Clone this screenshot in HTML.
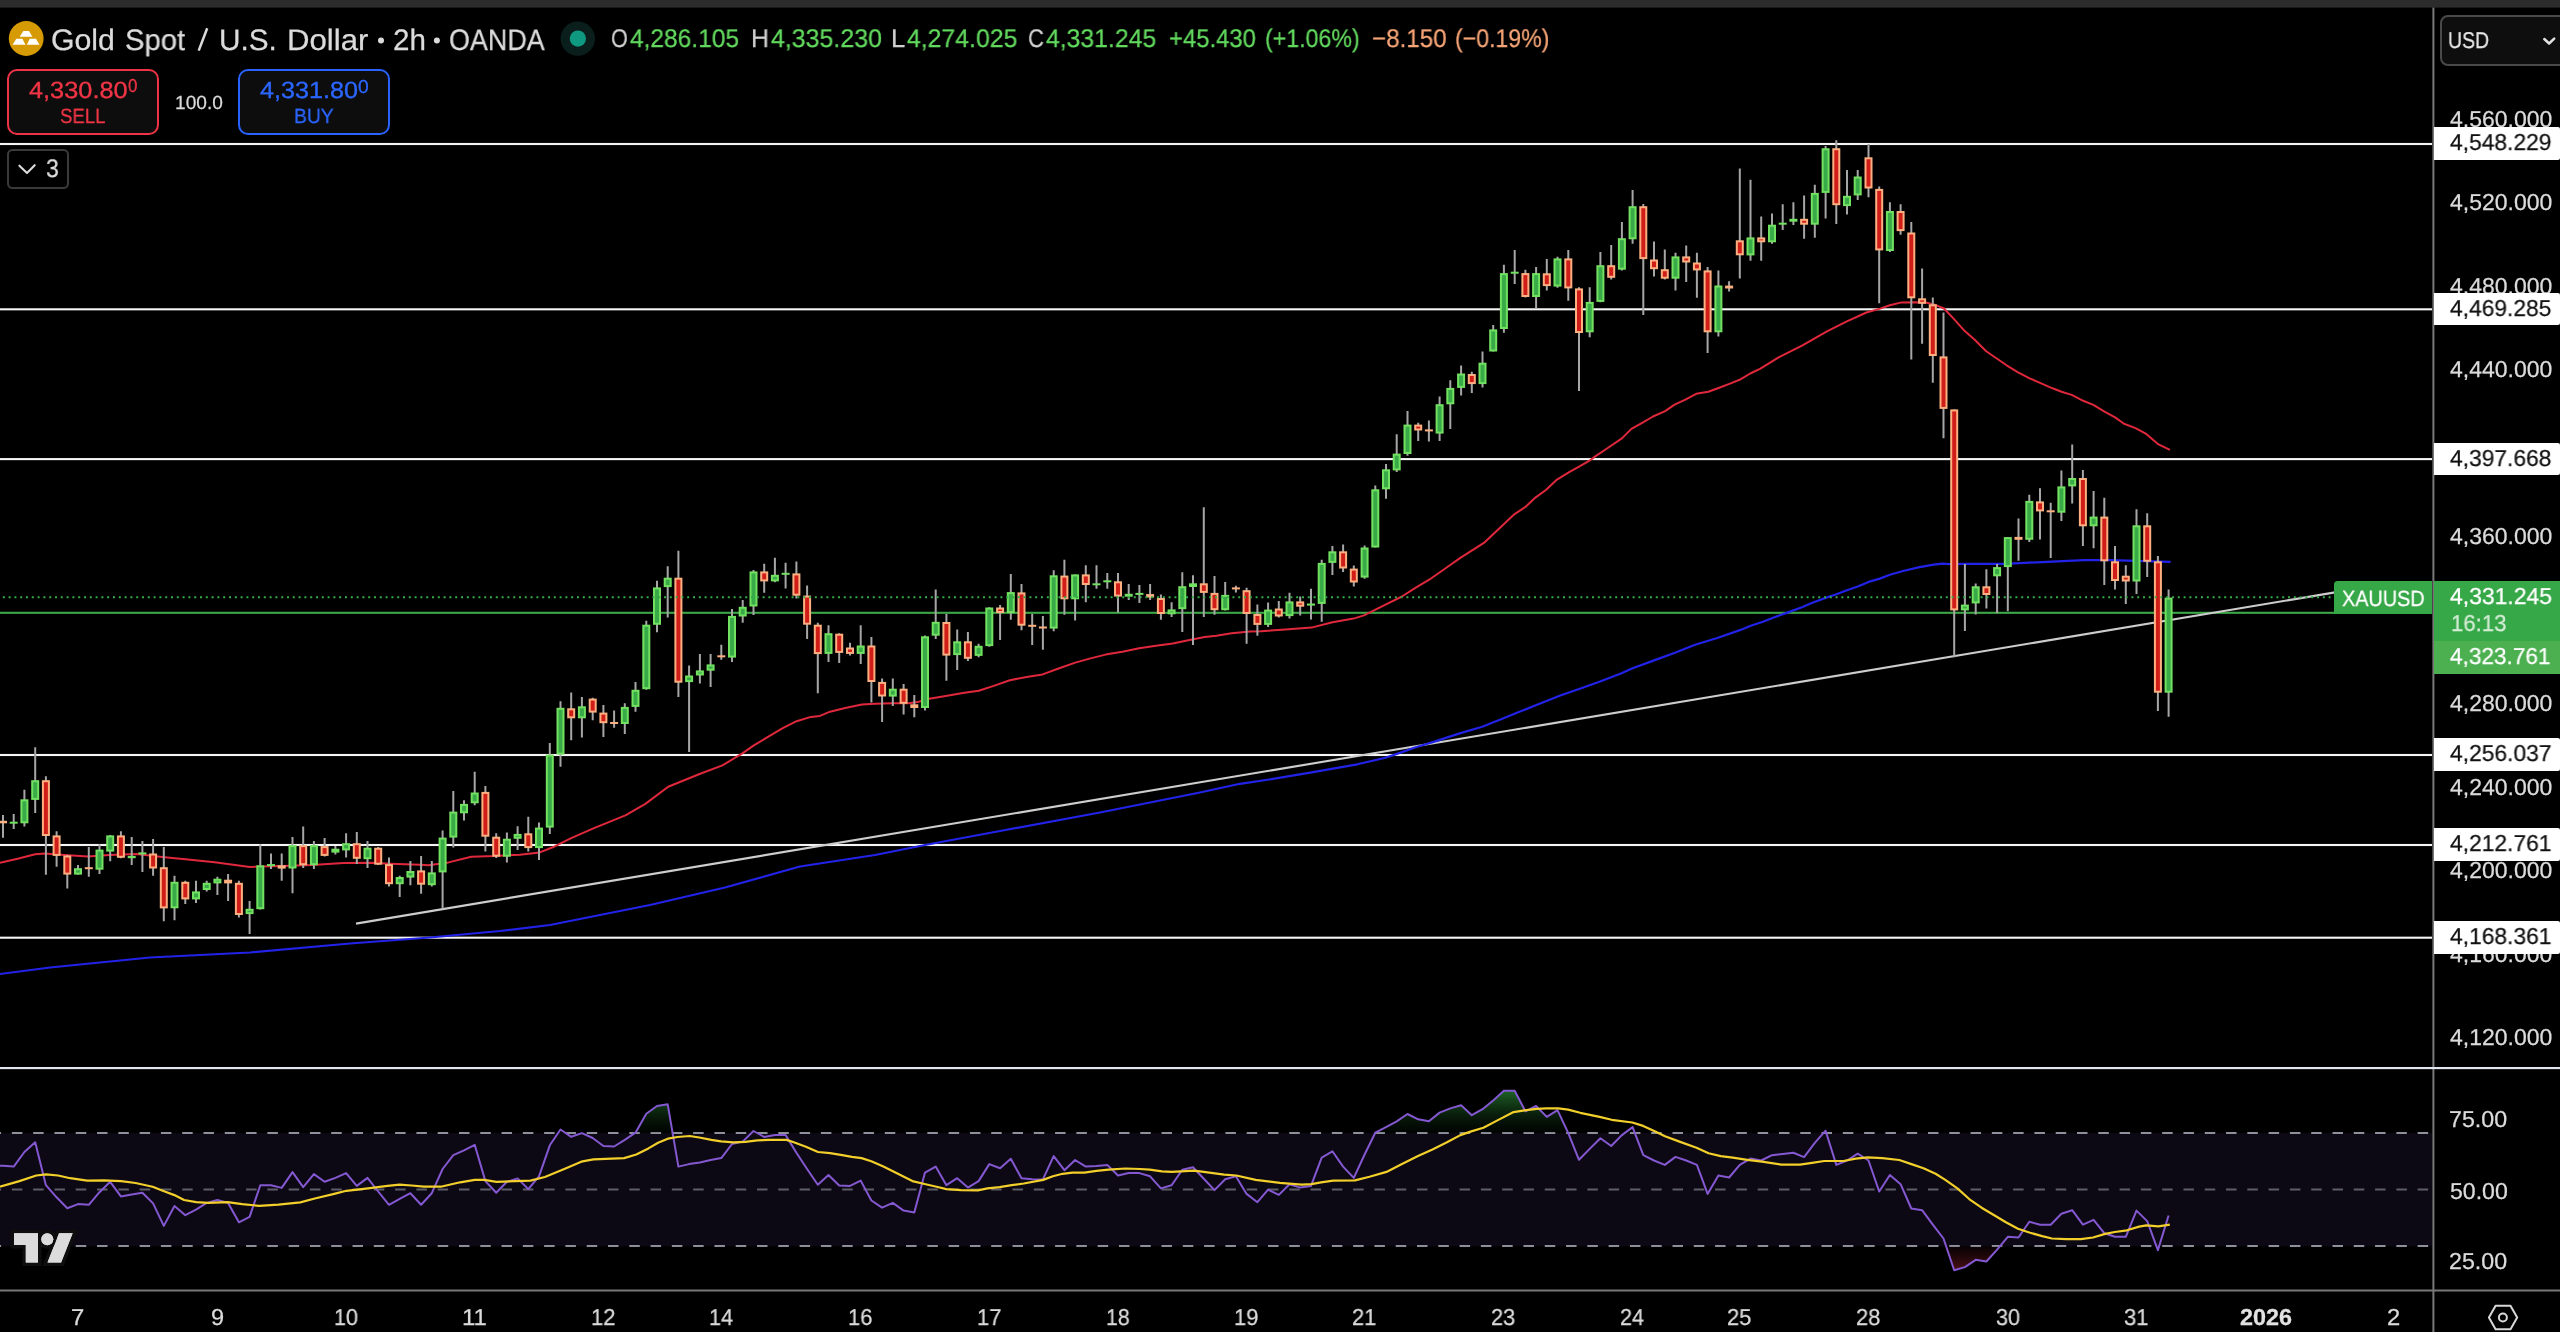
<!DOCTYPE html>
<html><head><meta charset="utf-8"><title>XAUUSD</title>
<style>
html,body{margin:0;padding:0;background:#000;}
body{width:2560px;height:1332px;position:relative;overflow:hidden;font-family:"Liberation Sans",sans-serif;}
.chart{position:absolute;left:0;top:0;}
.lines{position:absolute;left:0;top:0;z-index:1;}
.ov{position:absolute;left:0;top:0;z-index:4;pointer-events:none;}
.t{position:absolute;white-space:pre;line-height:1;transform-origin:0 50%;z-index:2;text-rendering:geometricPrecision;will-change:transform;-webkit-text-stroke:0.25px currentColor;}
.wl{position:absolute;left:2434.3px;width:126px;height:32.8px;background:#fff;border-radius:0 2px 2px 0;z-index:2;}
.box{position:absolute;box-sizing:border-box;}
.sell{left:6.7px;top:69.2px;width:152.7px;height:66.2px;border:2.4px solid #ee3346;border-radius:10px;background:#0d0d0d;}
.buy{left:237.6px;top:69.2px;width:152.8px;height:66.2px;border:2.4px solid #2a62ff;border-radius:10px;background:#0d0d0d;}
.ind{left:6.8px;top:148.8px;width:61.9px;height:40.7px;border:2.2px solid #3a3a3a;border-radius:5.5px;background:#000;}
.usd{left:2440.2px;top:15.4px;width:140px;height:50.5px;border:2.3px solid #4a4a4a;border-radius:8px;background:#0e0e0e;}
.xau{left:2334.1px;top:581.1px;width:98.4px;height:32.8px;background:#37a848;border-radius:3.5px 0 0 0;z-index:2;}
.cur{left:2434.3px;top:581.1px;width:126px;height:59.7px;background:#37a848;z-index:2;}
.cur2{left:2434.3px;top:640.8px;width:126px;height:32.8px;background:#4caf50;z-index:2;}
</style></head><body>
<svg class="chart" width="2432" height="1291" viewBox="0 0 2432 1291">
<defs>
<linearGradient id="gob" x1="0" y1="1087" x2="0" y2="1133" gradientUnits="userSpaceOnUse"><stop offset="0" stop-color="#2c8f38" stop-opacity="0.8"/><stop offset="1" stop-color="#0c2a10" stop-opacity="0.1"/></linearGradient>
<linearGradient id="gos" x1="0" y1="1246" x2="0" y2="1272" gradientUnits="userSpaceOnUse"><stop offset="0" stop-color="#3a0d12" stop-opacity="0.15"/><stop offset="1" stop-color="#64141e" stop-opacity="0.85"/></linearGradient>
<clipPath id="cob"><rect x="0" y="1070" width="2432" height="63.1"/></clipPath>
<clipPath id="cos"><rect x="0" y="1246.2" width="2432" height="44"/></clipPath>
<clipPath id="cmain"><rect x="0" y="7.5" width="2432" height="1059.3"/></clipPath>
</defs>
<g clip-path="url(#cmain)">
<rect x="0" y="142.95" width="2432.4" height="2.1" fill="#f4f4f4"/>
<rect x="0" y="308.25" width="2432.4" height="2.1" fill="#f4f4f4"/>
<rect x="0" y="458.05" width="2432.4" height="2.1" fill="#f4f4f4"/>
<rect x="0" y="753.95" width="2432.4" height="2.1" fill="#f4f4f4"/>
<rect x="0" y="843.95" width="2432.4" height="2.1" fill="#f4f4f4"/>
<rect x="0" y="936.65" width="2432.4" height="2.1" fill="#f4f4f4"/>
<rect x="0" y="611.75" width="2335" height="2.1" fill="#3da747"/>
<path d="M356 923.6 L2335 592.4" stroke="#cdcdcd" stroke-width="2.1" fill="none"/>
<path d="M0 862.7 L17.6 858.8 L35.1 854.3 L44.9 853.5 L64.4 854.9 L87.8 856.5 L109.3 854.9 L136.6 853.9 L162 856.9 L185.4 859.2 L214.7 862.3 L249.8 867 L261.5 866.6 L283 866 L312.3 865.1 L343.5 863.1 L370.8 862.7 L390.3 863.7 L420 864.7 L428.5 865.2 L448.5 862.4 L471.3 856.7 L494.2 856.1 L519.8 854.7 L539.8 852.4 L554.1 846.7 L571.2 838.1 L594 828.2 L625.4 815.3 L645.4 803.9 L668.2 786.8 L699.6 774 L722.4 765.4 L742.4 753.4 L753.8 745.4 L768 736.9 L782.3 728.3 L796.6 721.2 L810.8 716.9 L820 715.9 L830.1 711.7 L845.2 708 L862 704.6 L875.4 703.8 L892.2 703.3 L909 703.3 L917.4 702.1 L929.2 698.7 L944.3 696.2 L962.8 692.9 L978.7 690.7 L993 686.1 L1009.8 680.3 L1026.6 676.9 L1042.6 674.4 L1058.5 668.5 L1075.3 662.6 L1090.5 658.4 L1105.6 654.6 L1122.4 651.7 L1139.2 648.3 L1156 645.8 L1172.8 643.6 L1189.6 639.9 L1204.7 636.9 L1216.4 635.8 L1231.6 633.2 L1250 631.6 L1261 631.2 L1282 629.7 L1311.5 627.6 L1332.5 622.2 L1353.5 618.6 L1364 615.4 L1385 604.9 L1401.9 596.5 L1416.6 587.1 L1429.2 579.7 L1450.2 565 L1460.7 557.6 L1483.9 542.9 L1501.6 526.2 L1513.8 514.7 L1525.9 506.6 L1535.4 497.6 L1546.2 489.7 L1557 479.6 L1569.2 472.2 L1580 466.1 L1589.5 460.7 L1594.9 456.6 L1607 448.5 L1621.9 438.4 L1631.4 428.9 L1642.2 422.8 L1653 416.5 L1665.1 411.1 L1674.6 404.6 L1685.4 399.6 L1696.2 393.8 L1708.4 391.8 L1719.2 387.7 L1730 383.6 L1740.8 379.2 L1750.3 373.5 L1760 368.8 L1778.6 357.4 L1802 345.7 L1827.4 331.1 L1846.9 321.3 L1866.4 312.5 L1880.1 308.6 L1889.8 305.3 L1901.5 302.4 L1915.2 302.2 L1926.9 302.8 L1936.4 305.3 L1944 308.5 L1954.3 319.4 L1964.5 330.8 L1974.7 339.8 L1986.2 351.3 L1996.4 358.3 L2006.6 365.3 L2018.1 372.3 L2029.6 378.3 L2042.3 383.8 L2052.5 388.3 L2061.5 391.8 L2071.7 394.9 L2083.2 400.8 L2093.4 404.9 L2104.9 411.9 L2115.1 417.4 L2124 423.8 L2135.5 428.1 L2145.7 433.6 L2158.5 444.4 L2169.9 449.9" stroke="#e0283c" stroke-width="2" fill="none" stroke-linejoin="round"/>
<path d="M0 974 L50 967.5 L150 957.5 L250 952.5 L350 943.5 L430 937.5 L500 931 L550 925 L600 915 L650 905 L725 887.5 L800 866.5 L875 855 L925 845 L1000 831 L1100 812.5 L1200 792.5 L1240 783.8 L1269.3 779.5 L1310.3 772.7 L1357.2 764.3 L1384.5 758 L1396.3 754.1 L1415.8 747.3 L1435.3 741.4 L1458.8 733.6 L1482.2 726.8 L1501.7 718.9 L1521.3 711.1 L1540.8 703.3 L1560.3 695.5 L1579.8 688.7 L1599.4 681.8 L1620.9 673.4 L1632.6 668.2 L1654.1 660.4 L1675.6 652.5 L1695.1 644.7 L1717.3 638 L1740.6 629.9 L1750.8 625.8 L1763 621.8 L1773.1 617.7 L1787.3 612.6 L1802.6 607 L1811.7 603 L1827 597.4 L1835.1 594.8 L1846.3 590.5 L1858.4 586.2 L1868.6 581.9 L1879.8 578.6 L1889.9 574.8 L1903.1 571 L1918.4 567.4 L1933.6 564.7 L1942.7 563.6 L1949.9 564.1 L1965.7 563.9 L2005.1 563.9 L2047.1 561.8 L2083.9 560.2 L2110.2 560.2 L2136.5 560.8 L2170.6 561.8" stroke="#2222e8" stroke-width="2.2" fill="none" stroke-linejoin="round"/>
<path d="M3 814.9 V837.7 M13.7 813.9 V829.1 M24.4 789.7 V826.6 M35.2 747.2 V812.9 M45.9 776.3 V874.8 M56.6 831.3 V866.8 M67.3 854.9 V888.5 M78 865.1 V874.8 M88.8 846.9 V876.8 M99.5 844.2 V874 M110.2 835 V861.2 M120.9 831.3 V858.2 M131.7 837 V865.1 M142.4 840.9 V871.9 M153.1 838.9 V875.8 M163.8 846.9 V921.3 M174.5 875.8 V920.3 M185.3 880.7 V903.9 M196 880.7 V902.9 M206.7 880.7 V891.4 M217.4 876.8 V895.1 M228.1 874 V901 M238.9 880.7 V917.4 M249.6 901 V934 M260.3 844.2 V909.6 M271 853.5 V869 M281.7 853.5 V880.7 M292.5 837 V893.2 M303.2 826.4 V868 M313.9 840.9 V869 M324.6 837.9 V856.5 M335.4 846.1 V854.5 M346.1 833.2 V857.4 M356.8 832.1 V864.1 M367.5 840.9 V868 M378.2 846.9 V865.1 M389 857.4 V886.5 M399.7 875.8 V897.1 M410.4 861 V885.2 M421.1 856.1 V893.8 M431.8 861 V886.6 M442.6 830.4 V908.6 M453.3 791.1 V847.6 M464 800.2 V820.5 M474.7 771.7 V805.3 M485.4 785.9 V851.6 M496.2 833.3 V858.1 M506.9 832.4 V862.4 M517.6 826.2 V850.1 M528.3 816.7 V851.6 M539 822.5 V860.1 M549.8 743.1 V833.9 M560.5 701.2 V766.8 M571.2 692.6 V740.3 M581.9 696.9 V737.4 M592.7 697.8 V720.3 M603.4 704.9 V736.9 M614.1 710.6 V727.7 M624.8 703.2 V734 M635.5 682.1 V711.8 M646.3 620.7 V689.8 M657 580.8 V632.2 M667.7 566.2 V617.6 M678.4 550.8 V696.9 M689.1 665.5 V752 M699.9 654.1 V683.5 M710.6 654.1 V686.9 M721.3 644.7 V659.8 M732 609 V662.1 M742.7 599.9 V622.7 M753.5 570 V615 M764.2 563.7 V592.8 M774.9 557.7 V582.2 M785.6 562.8 V588.5 M796.4 561.4 V598.5 M807.1 585.6 V639 M817.8 622.7 V693.2 M828.5 625.3 V662.1 M839.2 633.2 V663 M850 642.8 V655.6 M860.7 625.3 V664 M871.4 637.1 V702.6 M882.1 678.6 V721.9 M892.8 678.6 V706 M903.6 684.1 V714.4 M914.3 695 V717.2 M925 635.4 V710.5 M935.7 589.6 V639.1 M946.4 613.9 V680.8 M957.2 629.4 V669.9 M967.9 632.1 V660.9 M978.6 643.8 V657.3 M989.3 607.2 V646.7 M1000.1 605 V639.9 M1010.8 574.1 V619.8 M1021.5 584 V630.2 M1032.2 613.9 V645 M1042.9 615.9 V649.7 M1053.7 570.2 V631.2 M1064.4 559.7 V614.8 M1075.1 574.4 V620.6 M1085.8 565.2 V602.2 M1096.5 565.2 V588.7 M1107.3 573.1 V588.7 M1118 573.1 V612.6 M1128.7 584 V600.1 M1139.4 584.9 V603 M1150.1 584 V600.1 M1160.9 594.6 V619.8 M1171.6 602.2 V616.9 M1182.3 572.3 V632.1 M1193 575.3 V645 M1203.8 507.2 V616.9 M1214.5 576.1 V614.8 M1225.2 582 V610.6 M1235.9 585.7 V592.6 M1246.6 587.7 V643.8 M1257.4 604.5 V635.8 M1268.1 602.4 V627 M1278.8 601.1 V617.5 M1289.5 592.7 V618.6 M1300.2 596.5 V615.4 M1311 588.7 V619.6 M1321.7 559.7 V621.7 M1332.4 546.1 V574.9 M1343.1 544.4 V571.9 M1353.8 565.6 V586.6 M1364.6 545.4 V578.7 M1375.3 485.5 V547.5 M1386 464.1 V498.8 M1396.7 434.2 V471.9 M1407.5 411.1 V455.7 M1418.2 422.7 V441 M1428.9 420.4 V441.6 M1439.6 396.4 V441 M1450.3 380.3 V429.1 M1461.1 365.4 V395.4 M1471.8 371.7 V393.1 M1482.5 351.4 V387.5 M1493.2 325.1 V351.4 M1503.9 264.7 V332.7 M1514.7 250.1 V283.9 M1525.4 269.7 V297.4 M1536.1 267 V308.6 M1546.8 259.1 V290.6 M1557.5 256.8 V287.7 M1568.3 250.1 V300.8 M1579 287.3 V390.9 M1589.7 287.3 V337.3 M1600.4 251.9 V302.3 M1611.2 245.1 V279.4 M1621.9 221.9 V270.4 M1632.6 190 V243.8 M1643.3 203.9 V315 M1654 241.5 V276.4 M1664.8 249.4 V279.4 M1675.5 252.8 V290.6 M1686.2 245.6 V282.1 M1696.9 252.8 V297.8 M1707.6 267 V353 M1718.4 270.4 V336.4 M1729.1 281.3 V291.6 M1739.8 168.5 V278.4 M1750.5 179.8 V260.8 M1761.2 216.5 V260.8 M1772 213.5 V243.8 M1782.7 204.2 V229.9 M1793.4 202.2 V225.1 M1804.1 195.4 V238.7 M1814.8 184.7 V237.7 M1825.6 146 V218.4 M1836.3 140.2 V224.1 M1847 170 V214.5 M1857.7 170 V199.9 M1868.5 144.1 V197.3 M1879.2 186.6 V303.3 M1889.9 202.2 V252 M1900.6 204.2 V234.8 M1911.3 222.1 V359.4 M1922.1 268.6 V343.7 M1932.8 297.5 V382.8 M1943.5 312.5 V438.3 M1954.2 409.4 V657.2 M1964.9 563.9 V630.9 M1975.7 583.6 V614.6 M1986.4 569.2 V608.6 M1997.1 563.9 V613.3 M2007.8 536.9 V611.2 M2018.5 518.5 V560.8 M2029.3 494.8 V542.1 M2040 488.3 V539.5 M2050.7 502.7 V557.9 M2061.4 470.6 V521.1 M2072.2 444.4 V503.5 M2082.9 469.9 V546.1 M2093.6 491.1 V548.2 M2104.3 497.7 V584.9 M2115 546.1 V589.4 M2125.8 565.2 V603.9 M2136.5 509.3 V594.1 M2147.2 513.2 V577.1 M2157.9 556 V711.1 M2168.6 589.4 V716.8" stroke="#a6a6a6" stroke-width="2" fill="none"/>
<rect x="9.7" y="821.7" width="8" height="2" fill="#72e060"/>
<rect x="21.4" y="800.3" width="6" height="22" fill="#38aa48" stroke="#72e060" stroke-width="2"/>
<rect x="32.2" y="781.2" width="6" height="17.7" fill="#38aa48" stroke="#72e060" stroke-width="2"/>
<rect x="75" y="869.2" width="6" height="4.4" fill="#38aa48" stroke="#72e060" stroke-width="2"/>
<rect x="96.5" y="850.6" width="6" height="18.1" fill="#38aa48" stroke="#72e060" stroke-width="2"/>
<rect x="107.2" y="836.4" width="6" height="14.2" fill="#38aa48" stroke="#72e060" stroke-width="2"/>
<rect x="127.7" y="855.9" width="8" height="2.3" fill="#72e060"/>
<rect x="138.4" y="852.4" width="8" height="2" fill="#72e060"/>
<rect x="171.5" y="882.8" width="6" height="24.5" fill="#38aa48" stroke="#72e060" stroke-width="2"/>
<rect x="193" y="892.4" width="6" height="6" fill="#38aa48" stroke="#72e060" stroke-width="2"/>
<rect x="203.7" y="883.8" width="6" height="5.2" fill="#38aa48" stroke="#72e060" stroke-width="2"/>
<rect x="214.4" y="879.7" width="6" height="2.7" fill="#38aa48" stroke="#72e060" stroke-width="2"/>
<rect x="246.6" y="909.8" width="6" height="3.3" fill="#38aa48" stroke="#72e060" stroke-width="2"/>
<rect x="257.3" y="866.3" width="6" height="41.9" fill="#38aa48" stroke="#72e060" stroke-width="2"/>
<rect x="267" y="864.1" width="8" height="2" fill="#72e060"/>
<rect x="289.5" y="846.1" width="6" height="21.4" fill="#38aa48" stroke="#72e060" stroke-width="2"/>
<rect x="310.9" y="846.1" width="6" height="18.1" fill="#38aa48" stroke="#72e060" stroke-width="2"/>
<rect x="331.4" y="848.7" width="8" height="3.9" fill="#72e060"/>
<rect x="343.1" y="844.2" width="6" height="5.2" fill="#38aa48" stroke="#72e060" stroke-width="2"/>
<rect x="364.5" y="848.7" width="6" height="9.5" fill="#38aa48" stroke="#72e060" stroke-width="2"/>
<rect x="396.7" y="878" width="6" height="5.2" fill="#38aa48" stroke="#72e060" stroke-width="2"/>
<rect x="407.4" y="872" width="6" height="4.6" fill="#38aa48" stroke="#72e060" stroke-width="2"/>
<rect x="428.8" y="873.4" width="6" height="10.8" fill="#38aa48" stroke="#72e060" stroke-width="2"/>
<rect x="439.6" y="838.6" width="6" height="32.8" fill="#38aa48" stroke="#72e060" stroke-width="2"/>
<rect x="450.3" y="812.6" width="6" height="24" fill="#38aa48" stroke="#72e060" stroke-width="2"/>
<rect x="461" y="804.9" width="6" height="7.4" fill="#38aa48" stroke="#72e060" stroke-width="2"/>
<rect x="471.7" y="793.5" width="6" height="8.8" fill="#38aa48" stroke="#72e060" stroke-width="2"/>
<rect x="503.9" y="839.7" width="6" height="16" fill="#38aa48" stroke="#72e060" stroke-width="2"/>
<rect x="514.6" y="834.9" width="6" height="2.9" fill="#38aa48" stroke="#72e060" stroke-width="2"/>
<rect x="536" y="828.6" width="6" height="18.5" fill="#38aa48" stroke="#72e060" stroke-width="2"/>
<rect x="546.8" y="755.6" width="6" height="71" fill="#38aa48" stroke="#72e060" stroke-width="2"/>
<rect x="557.5" y="708.8" width="6" height="44.8" fill="#38aa48" stroke="#72e060" stroke-width="2"/>
<rect x="578.9" y="707.3" width="6" height="10" fill="#38aa48" stroke="#72e060" stroke-width="2"/>
<rect x="621.8" y="707.9" width="6" height="15.1" fill="#38aa48" stroke="#72e060" stroke-width="2"/>
<rect x="632.5" y="690.8" width="6" height="15.1" fill="#38aa48" stroke="#72e060" stroke-width="2"/>
<rect x="643.3" y="625.7" width="6" height="62.5" fill="#38aa48" stroke="#72e060" stroke-width="2"/>
<rect x="654" y="588.4" width="6" height="35.4" fill="#38aa48" stroke="#72e060" stroke-width="2"/>
<rect x="664.7" y="578.7" width="6" height="7.4" fill="#38aa48" stroke="#72e060" stroke-width="2"/>
<rect x="686.1" y="676.5" width="6" height="4.6" fill="#38aa48" stroke="#72e060" stroke-width="2"/>
<rect x="696.9" y="671.4" width="6" height="3.1" fill="#38aa48" stroke="#72e060" stroke-width="2"/>
<rect x="707.6" y="665.4" width="6" height="4.3" fill="#38aa48" stroke="#72e060" stroke-width="2"/>
<rect x="729" y="616.9" width="6" height="39.7" fill="#38aa48" stroke="#72e060" stroke-width="2"/>
<rect x="739.7" y="607.8" width="6" height="7.7" fill="#38aa48" stroke="#72e060" stroke-width="2"/>
<rect x="750.5" y="572.4" width="6" height="33.1" fill="#38aa48" stroke="#72e060" stroke-width="2"/>
<rect x="771.9" y="575.8" width="6" height="4.6" fill="#38aa48" stroke="#72e060" stroke-width="2"/>
<rect x="781.6" y="572.8" width="8" height="2" fill="#72e060"/>
<rect x="825.5" y="634.2" width="6" height="18.7" fill="#38aa48" stroke="#72e060" stroke-width="2"/>
<rect x="857.7" y="646.5" width="6" height="6.4" fill="#38aa48" stroke="#72e060" stroke-width="2"/>
<rect x="889.8" y="689.7" width="6" height="5.9" fill="#38aa48" stroke="#72e060" stroke-width="2"/>
<rect x="922" y="637.3" width="6" height="69.7" fill="#38aa48" stroke="#72e060" stroke-width="2"/>
<rect x="932.7" y="622.8" width="6" height="11.9" fill="#38aa48" stroke="#72e060" stroke-width="2"/>
<rect x="954.2" y="642.3" width="6" height="11.8" fill="#38aa48" stroke="#72e060" stroke-width="2"/>
<rect x="975.6" y="646.8" width="6" height="8.1" fill="#38aa48" stroke="#72e060" stroke-width="2"/>
<rect x="986.3" y="608.5" width="6" height="36.6" fill="#38aa48" stroke="#72e060" stroke-width="2"/>
<rect x="1007.8" y="593.1" width="6" height="19" fill="#38aa48" stroke="#72e060" stroke-width="2"/>
<rect x="1050.7" y="576.3" width="6" height="51.3" fill="#38aa48" stroke="#72e060" stroke-width="2"/>
<rect x="1072.1" y="575.4" width="6" height="22.9" fill="#38aa48" stroke="#72e060" stroke-width="2"/>
<rect x="1092.5" y="583.3" width="8" height="2" fill="#72e060"/>
<rect x="1103.3" y="580.3" width="8" height="2" fill="#72e060"/>
<rect x="1124.7" y="593.8" width="8" height="2.9" fill="#72e060"/>
<rect x="1135.4" y="592.9" width="8" height="2" fill="#72e060"/>
<rect x="1168.6" y="610.4" width="6" height="2.9" fill="#38aa48" stroke="#72e060" stroke-width="2"/>
<rect x="1179.3" y="587.2" width="6" height="21" fill="#38aa48" stroke="#72e060" stroke-width="2"/>
<rect x="1189" y="583.3" width="8" height="3.7" fill="#72e060"/>
<rect x="1222.2" y="595.9" width="6" height="13.3" fill="#38aa48" stroke="#72e060" stroke-width="2"/>
<rect x="1265.1" y="610.6" width="6" height="13.3" fill="#38aa48" stroke="#72e060" stroke-width="2"/>
<rect x="1286.5" y="602.4" width="6" height="12.7" fill="#38aa48" stroke="#72e060" stroke-width="2"/>
<rect x="1307" y="603.5" width="8" height="2.1" fill="#72e060"/>
<rect x="1318.7" y="563.9" width="6" height="39" fill="#38aa48" stroke="#72e060" stroke-width="2"/>
<rect x="1329.4" y="552.3" width="6" height="9.6" fill="#38aa48" stroke="#72e060" stroke-width="2"/>
<rect x="1361.6" y="548.5" width="6" height="28.1" fill="#38aa48" stroke="#72e060" stroke-width="2"/>
<rect x="1372.3" y="490.3" width="6" height="56.2" fill="#38aa48" stroke="#72e060" stroke-width="2"/>
<rect x="1383" y="470.3" width="6" height="18" fill="#38aa48" stroke="#72e060" stroke-width="2"/>
<rect x="1393.7" y="454.6" width="6" height="14.8" fill="#38aa48" stroke="#72e060" stroke-width="2"/>
<rect x="1404.5" y="425.6" width="6" height="27.4" fill="#38aa48" stroke="#72e060" stroke-width="2"/>
<rect x="1436.6" y="405.2" width="6" height="27.4" fill="#38aa48" stroke="#72e060" stroke-width="2"/>
<rect x="1447.3" y="388.9" width="6" height="14.4" fill="#38aa48" stroke="#72e060" stroke-width="2"/>
<rect x="1458.1" y="374.5" width="6" height="12.4" fill="#38aa48" stroke="#72e060" stroke-width="2"/>
<rect x="1479.5" y="363.7" width="6" height="19.4" fill="#38aa48" stroke="#72e060" stroke-width="2"/>
<rect x="1490.2" y="330.4" width="6" height="20.1" fill="#38aa48" stroke="#72e060" stroke-width="2"/>
<rect x="1500.9" y="274.1" width="6" height="53.9" fill="#38aa48" stroke="#72e060" stroke-width="2"/>
<rect x="1510.7" y="271.7" width="8" height="2" fill="#72e060"/>
<rect x="1533.1" y="274.1" width="6" height="21.9" fill="#38aa48" stroke="#72e060" stroke-width="2"/>
<rect x="1554.5" y="259.4" width="6" height="26.2" fill="#38aa48" stroke="#72e060" stroke-width="2"/>
<rect x="1586.7" y="302.9" width="6" height="28.4" fill="#38aa48" stroke="#72e060" stroke-width="2"/>
<rect x="1597.4" y="266.2" width="6" height="34.7" fill="#38aa48" stroke="#72e060" stroke-width="2"/>
<rect x="1618.9" y="239.2" width="6" height="29.5" fill="#38aa48" stroke="#72e060" stroke-width="2"/>
<rect x="1629.6" y="207.2" width="6" height="31.1" fill="#38aa48" stroke="#72e060" stroke-width="2"/>
<rect x="1672.5" y="257.4" width="6" height="20.3" fill="#38aa48" stroke="#72e060" stroke-width="2"/>
<rect x="1715.4" y="286.5" width="6" height="44.8" fill="#38aa48" stroke="#72e060" stroke-width="2"/>
<rect x="1747.5" y="238.4" width="6" height="16" fill="#38aa48" stroke="#72e060" stroke-width="2"/>
<rect x="1769" y="225.7" width="6" height="15.6" fill="#38aa48" stroke="#72e060" stroke-width="2"/>
<rect x="1778.7" y="222.7" width="8" height="2" fill="#72e060"/>
<rect x="1789.4" y="218.8" width="8" height="2.9" fill="#72e060"/>
<rect x="1811.8" y="193.9" width="6" height="29.8" fill="#38aa48" stroke="#72e060" stroke-width="2"/>
<rect x="1822.6" y="149.2" width="6" height="42.7" fill="#38aa48" stroke="#72e060" stroke-width="2"/>
<rect x="1844" y="196.8" width="6" height="8.3" fill="#38aa48" stroke="#72e060" stroke-width="2"/>
<rect x="1854.7" y="177.5" width="6" height="16.9" fill="#38aa48" stroke="#72e060" stroke-width="2"/>
<rect x="1886.9" y="212" width="6" height="38" fill="#38aa48" stroke="#72e060" stroke-width="2"/>
<rect x="1961.9" y="605.6" width="6" height="3.8" fill="#38aa48" stroke="#72e060" stroke-width="2"/>
<rect x="1972.7" y="587.3" width="6" height="15.1" fill="#38aa48" stroke="#72e060" stroke-width="2"/>
<rect x="1994.1" y="568.1" width="6" height="7.2" fill="#38aa48" stroke="#72e060" stroke-width="2"/>
<rect x="2004.8" y="538.1" width="6" height="28" fill="#38aa48" stroke="#72e060" stroke-width="2"/>
<rect x="2026.3" y="501.9" width="6" height="36.9" fill="#38aa48" stroke="#72e060" stroke-width="2"/>
<rect x="2058.4" y="487.4" width="6" height="24.3" fill="#38aa48" stroke="#72e060" stroke-width="2"/>
<rect x="2069.2" y="479" width="6" height="6.4" fill="#38aa48" stroke="#72e060" stroke-width="2"/>
<rect x="2090.6" y="517.6" width="6" height="7.7" fill="#38aa48" stroke="#72e060" stroke-width="2"/>
<rect x="2133.5" y="526.3" width="6" height="54.2" fill="#38aa48" stroke="#72e060" stroke-width="2"/>
<rect x="2165.6" y="598.6" width="6" height="93.1" fill="#38aa48" stroke="#72e060" stroke-width="2"/>
<rect x="-1" y="820.8" width="8" height="2.5" fill="#fcb081"/>
<rect x="42.9" y="781.2" width="6" height="53.8" fill="#d01d18" stroke="#fcb081" stroke-width="2"/>
<rect x="53.6" y="836.4" width="6" height="18.5" fill="#d01d18" stroke="#fcb081" stroke-width="2"/>
<rect x="64.3" y="856.5" width="6" height="17.1" fill="#d01d18" stroke="#fcb081" stroke-width="2"/>
<rect x="84.8" y="867.2" width="8" height="2" fill="#fcb081"/>
<rect x="117.9" y="836.4" width="6" height="20.4" fill="#d01d18" stroke="#fcb081" stroke-width="2"/>
<rect x="150.1" y="854.5" width="6" height="13" fill="#d01d18" stroke="#fcb081" stroke-width="2"/>
<rect x="160.8" y="868.2" width="6" height="39.2" fill="#d01d18" stroke="#fcb081" stroke-width="2"/>
<rect x="182.3" y="882.8" width="6" height="15.6" fill="#d01d18" stroke="#fcb081" stroke-width="2"/>
<rect x="224.1" y="879.7" width="8" height="3.7" fill="#fcb081"/>
<rect x="235.9" y="883.8" width="6" height="30.2" fill="#d01d18" stroke="#fcb081" stroke-width="2"/>
<rect x="277.7" y="865.3" width="8" height="3.3" fill="#fcb081"/>
<rect x="300.2" y="846.1" width="6" height="18.1" fill="#d01d18" stroke="#fcb081" stroke-width="2"/>
<rect x="321.6" y="847.1" width="6" height="7.8" fill="#d01d18" stroke="#fcb081" stroke-width="2"/>
<rect x="353.8" y="844.2" width="6" height="13.6" fill="#d01d18" stroke="#fcb081" stroke-width="2"/>
<rect x="375.2" y="848.7" width="6" height="15" fill="#d01d18" stroke="#fcb081" stroke-width="2"/>
<rect x="386" y="865.1" width="6" height="18.1" fill="#d01d18" stroke="#fcb081" stroke-width="2"/>
<rect x="418.1" y="871.4" width="6" height="12.3" fill="#d01d18" stroke="#fcb081" stroke-width="2"/>
<rect x="482.4" y="792.9" width="6" height="42.8" fill="#d01d18" stroke="#fcb081" stroke-width="2"/>
<rect x="493.2" y="837.7" width="6" height="18" fill="#d01d18" stroke="#fcb081" stroke-width="2"/>
<rect x="525.3" y="834.3" width="6" height="12.8" fill="#d01d18" stroke="#fcb081" stroke-width="2"/>
<rect x="568.2" y="709.3" width="6" height="8" fill="#d01d18" stroke="#fcb081" stroke-width="2"/>
<rect x="589.7" y="699.6" width="6" height="12" fill="#d01d18" stroke="#fcb081" stroke-width="2"/>
<rect x="600.4" y="713.6" width="6" height="8.6" fill="#d01d18" stroke="#fcb081" stroke-width="2"/>
<rect x="610.1" y="722" width="8" height="2" fill="#fcb081"/>
<rect x="675.4" y="578.7" width="6" height="103" fill="#d01d18" stroke="#fcb081" stroke-width="2"/>
<rect x="717.3" y="655.3" width="8" height="2" fill="#fcb081"/>
<rect x="761.2" y="572.4" width="6" height="8" fill="#d01d18" stroke="#fcb081" stroke-width="2"/>
<rect x="793.4" y="574.4" width="6" height="20.3" fill="#d01d18" stroke="#fcb081" stroke-width="2"/>
<rect x="804.1" y="596.6" width="6" height="27.1" fill="#d01d18" stroke="#fcb081" stroke-width="2"/>
<rect x="814.8" y="625.7" width="6" height="27.4" fill="#d01d18" stroke="#fcb081" stroke-width="2"/>
<rect x="836.2" y="634.7" width="6" height="17.2" fill="#d01d18" stroke="#fcb081" stroke-width="2"/>
<rect x="847" y="648.5" width="6" height="4.4" fill="#d01d18" stroke="#fcb081" stroke-width="2"/>
<rect x="868.4" y="646.5" width="6" height="34.5" fill="#d01d18" stroke="#fcb081" stroke-width="2"/>
<rect x="879.1" y="682.9" width="6" height="12.6" fill="#d01d18" stroke="#fcb081" stroke-width="2"/>
<rect x="900.6" y="689.7" width="6" height="13.1" fill="#d01d18" stroke="#fcb081" stroke-width="2"/>
<rect x="910.3" y="704.3" width="8" height="3.7" fill="#fcb081"/>
<rect x="943.4" y="623" width="6" height="31.6" fill="#d01d18" stroke="#fcb081" stroke-width="2"/>
<rect x="964.9" y="642.3" width="6" height="15.5" fill="#d01d18" stroke="#fcb081" stroke-width="2"/>
<rect x="997.1" y="608.5" width="6" height="3.5" fill="#d01d18" stroke="#fcb081" stroke-width="2"/>
<rect x="1018.5" y="593.4" width="6" height="31.3" fill="#d01d18" stroke="#fcb081" stroke-width="2"/>
<rect x="1028.2" y="624.8" width="8" height="2" fill="#fcb081"/>
<rect x="1038.9" y="626.5" width="8" height="2" fill="#fcb081"/>
<rect x="1061.4" y="576.6" width="6" height="21.7" fill="#d01d18" stroke="#fcb081" stroke-width="2"/>
<rect x="1082.8" y="575.4" width="6" height="8.6" fill="#d01d18" stroke="#fcb081" stroke-width="2"/>
<rect x="1115" y="582.3" width="6" height="13.3" fill="#d01d18" stroke="#fcb081" stroke-width="2"/>
<rect x="1146.1" y="594.1" width="8" height="3.4" fill="#fcb081"/>
<rect x="1157.9" y="599" width="6" height="14" fill="#d01d18" stroke="#fcb081" stroke-width="2"/>
<rect x="1200.8" y="584.3" width="6" height="7.6" fill="#d01d18" stroke="#fcb081" stroke-width="2"/>
<rect x="1211.5" y="593.9" width="6" height="15.3" fill="#d01d18" stroke="#fcb081" stroke-width="2"/>
<rect x="1231.9" y="587.4" width="8" height="2" fill="#fcb081"/>
<rect x="1243.6" y="591.2" width="6" height="21.8" fill="#d01d18" stroke="#fcb081" stroke-width="2"/>
<rect x="1254.4" y="615" width="6" height="8.9" fill="#d01d18" stroke="#fcb081" stroke-width="2"/>
<rect x="1275.8" y="609.5" width="6" height="6" fill="#d01d18" stroke="#fcb081" stroke-width="2"/>
<rect x="1297.2" y="602.4" width="6" height="3.3" fill="#d01d18" stroke="#fcb081" stroke-width="2"/>
<rect x="1340.1" y="552.3" width="6" height="15.2" fill="#d01d18" stroke="#fcb081" stroke-width="2"/>
<rect x="1350.8" y="569.6" width="6" height="11.9" fill="#d01d18" stroke="#fcb081" stroke-width="2"/>
<rect x="1415.2" y="425.6" width="6" height="3.9" fill="#d01d18" stroke="#fcb081" stroke-width="2"/>
<rect x="1424.9" y="429.4" width="8" height="2" fill="#fcb081"/>
<rect x="1468.8" y="375" width="6" height="8.1" fill="#d01d18" stroke="#fcb081" stroke-width="2"/>
<rect x="1522.4" y="274.1" width="6" height="21.9" fill="#d01d18" stroke="#fcb081" stroke-width="2"/>
<rect x="1543.8" y="274.3" width="6" height="10.8" fill="#d01d18" stroke="#fcb081" stroke-width="2"/>
<rect x="1565.3" y="259.4" width="6" height="28" fill="#d01d18" stroke="#fcb081" stroke-width="2"/>
<rect x="1576" y="289.4" width="6" height="42.6" fill="#d01d18" stroke="#fcb081" stroke-width="2"/>
<rect x="1608.2" y="266.2" width="6" height="10.6" fill="#d01d18" stroke="#fcb081" stroke-width="2"/>
<rect x="1640.3" y="207.2" width="6" height="50.9" fill="#d01d18" stroke="#fcb081" stroke-width="2"/>
<rect x="1651" y="260.5" width="6" height="7.7" fill="#d01d18" stroke="#fcb081" stroke-width="2"/>
<rect x="1661.8" y="270.2" width="6" height="7.5" fill="#d01d18" stroke="#fcb081" stroke-width="2"/>
<rect x="1683.2" y="257.4" width="6" height="4.1" fill="#d01d18" stroke="#fcb081" stroke-width="2"/>
<rect x="1693.9" y="263.5" width="6" height="5.9" fill="#d01d18" stroke="#fcb081" stroke-width="2"/>
<rect x="1704.6" y="271.4" width="6" height="59.9" fill="#d01d18" stroke="#fcb081" stroke-width="2"/>
<rect x="1725.1" y="285.6" width="8" height="2.9" fill="#fcb081"/>
<rect x="1736.8" y="241.3" width="6" height="13" fill="#d01d18" stroke="#fcb081" stroke-width="2"/>
<rect x="1758.2" y="238.4" width="6" height="2.9" fill="#d01d18" stroke="#fcb081" stroke-width="2"/>
<rect x="1801.1" y="219.8" width="6" height="3.9" fill="#d01d18" stroke="#fcb081" stroke-width="2"/>
<rect x="1833.3" y="149.2" width="6" height="55" fill="#d01d18" stroke="#fcb081" stroke-width="2"/>
<rect x="1865.5" y="158.3" width="6" height="29.2" fill="#d01d18" stroke="#fcb081" stroke-width="2"/>
<rect x="1876.2" y="189.9" width="6" height="59.5" fill="#d01d18" stroke="#fcb081" stroke-width="2"/>
<rect x="1897.6" y="212" width="6" height="18.1" fill="#d01d18" stroke="#fcb081" stroke-width="2"/>
<rect x="1908.3" y="233.5" width="6" height="63.8" fill="#d01d18" stroke="#fcb081" stroke-width="2"/>
<rect x="1919.1" y="299.3" width="6" height="3.5" fill="#d01d18" stroke="#fcb081" stroke-width="2"/>
<rect x="1929.8" y="305.3" width="6" height="49.7" fill="#d01d18" stroke="#fcb081" stroke-width="2"/>
<rect x="1940.5" y="357.4" width="6" height="50.5" fill="#d01d18" stroke="#fcb081" stroke-width="2"/>
<rect x="1951.2" y="410.4" width="6" height="199" fill="#d01d18" stroke="#fcb081" stroke-width="2"/>
<rect x="1983.4" y="587.3" width="6" height="6.7" fill="#d01d18" stroke="#fcb081" stroke-width="2"/>
<rect x="2014.5" y="536.9" width="8" height="2.9" fill="#fcb081"/>
<rect x="2037" y="502.4" width="6" height="8" fill="#d01d18" stroke="#fcb081" stroke-width="2"/>
<rect x="2046.7" y="510.3" width="8" height="2" fill="#fcb081"/>
<rect x="2079.9" y="479" width="6" height="46.3" fill="#d01d18" stroke="#fcb081" stroke-width="2"/>
<rect x="2101.3" y="517.6" width="6" height="42.7" fill="#d01d18" stroke="#fcb081" stroke-width="2"/>
<rect x="2112" y="562.3" width="6" height="17.7" fill="#d01d18" stroke="#fcb081" stroke-width="2"/>
<rect x="2122.8" y="576.7" width="6" height="3.8" fill="#d01d18" stroke="#fcb081" stroke-width="2"/>
<rect x="2144.2" y="526.3" width="6" height="34.5" fill="#d01d18" stroke="#fcb081" stroke-width="2"/>
<rect x="2154.9" y="562.3" width="6" height="129.4" fill="#d01d18" stroke="#fcb081" stroke-width="2"/>
<path d="M2.8 597.3 H2333" stroke="#33aa49" stroke-width="2" stroke-dasharray="2 3.8" fill="none"/>
</g>
<rect x="0" y="1133.1" width="2432" height="113.1" fill="#0d0914"/>
<path d="M-9.41 1133.1 H2432" stroke="#8e909c" stroke-width="2" stroke-dasharray="10.5 10.79" fill="none"/>
<path d="M-9.41 1189.6 H2432" stroke="#5c5e69" stroke-width="2" stroke-dasharray="10.5 10.79" fill="none"/>
<path d="M-9.41 1246.1 H2432" stroke="#8e909c" stroke-width="2" stroke-dasharray="10.5 10.79" fill="none"/>
<path d="M3 1133.1 L3 1165.8 L13.7 1166.6 L24.4 1152 L35.2 1142.3 L45.9 1185.2 L56.6 1197.3 L67.3 1208.2 L78 1204.1 L88.8 1204.8 L99.5 1192.2 L110.2 1181.8 L120.9 1196.4 L131.7 1194.4 L142.4 1192.7 L153.1 1203.4 L163.8 1225.9 L174.5 1206 L185.3 1215.2 L196 1209.7 L206.7 1202.9 L217.4 1200 L228.1 1202.9 L238.9 1222.3 L249.6 1216.9 L260.3 1185.2 L271 1185.2 L281.7 1187.9 L292.5 1172.1 L303.2 1187.1 L313.9 1174.1 L324.6 1181.8 L335.4 1177.9 L346.1 1173.1 L356.8 1185.9 L367.5 1177.9 L378.2 1191.5 L389 1204.8 L399.7 1198.8 L410.4 1193.2 L421.1 1204.8 L431.8 1193.2 L442.6 1169 L453.3 1155.2 L464 1150.3 L474.7 1144.8 L485.4 1181.1 L496.2 1192.7 L506.9 1181.8 L517.6 1178.4 L528.3 1189.1 L539 1176.3 L549.8 1145.3 L560.5 1129.5 L571.2 1136.8 L581.9 1133.1 L592.7 1138 L603.4 1146 L614.1 1146.5 L624.8 1139.9 L635.5 1132.7 L646.3 1113.8 L657 1106 L667.7 1104.3 L678.4 1166.6 L689.1 1164.1 L699.9 1162.4 L710.6 1160 L721.3 1158.1 L732 1144 L742.7 1141.6 L753.5 1131 L764.2 1137 L774.9 1135.1 L785.6 1135.1 L796.4 1152.8 L807.1 1169 L817.8 1184.7 L828.5 1175 L839.2 1185.5 L850 1185.9 L860.7 1180.6 L871.4 1200.5 L882.1 1207.7 L892.8 1202.9 L903.6 1210.6 L914.3 1212.6 L925 1172.6 L935.7 1166.6 L946.4 1185.2 L957.2 1178.2 L967.9 1187.6 L978.6 1181.1 L989.3 1164.1 L1000.1 1168.3 L1010.8 1158.8 L1021.5 1178.2 L1032.2 1179.2 L1042.9 1179.4 L1053.7 1156.1 L1064.4 1170.2 L1075.1 1160 L1085.8 1166.6 L1096.5 1166.1 L1107.3 1164.9 L1118 1175.5 L1128.7 1173.1 L1139.4 1173.1 L1150.1 1176.3 L1160.9 1188.4 L1171.6 1185.2 L1182.3 1169.7 L1193 1167.3 L1203.8 1178.7 L1214.5 1190.1 L1225.2 1179.2 L1235.9 1176.3 L1246.6 1193.9 L1257.4 1202.2 L1268.1 1189.6 L1278.8 1194.9 L1289.5 1184.2 L1300.2 1187.6 L1311 1185.9 L1321.7 1157.6 L1332.4 1151.3 L1343.1 1166.6 L1353.8 1177.9 L1364.6 1154.5 L1375.3 1132.7 L1386 1127.1 L1396.7 1121.3 L1407.5 1114 L1418.2 1119.3 L1428.9 1121.3 L1439.6 1112.6 L1450.3 1108.4 L1461.1 1105.3 L1471.8 1115.2 L1482.5 1109.2 L1493.2 1100.4 L1503.9 1090.8 L1514.7 1090.8 L1525.4 1111.3 L1536.1 1106 L1546.8 1116.9 L1557.5 1110.1 L1568.3 1133.1 L1579 1159.8 L1589.7 1148.9 L1600.4 1138.2 L1611.2 1146 L1621.9 1135.1 L1632.6 1127.1 L1643.3 1155.2 L1654 1160.5 L1664.8 1164.9 L1675.5 1156.9 L1686.2 1160.5 L1696.9 1164.9 L1707.6 1193.9 L1718.4 1175.5 L1729.1 1177.5 L1739.8 1164.9 L1750.5 1158.6 L1761.2 1160.5 L1772 1155.2 L1782.7 1154 L1793.4 1152.8 L1804.1 1157.1 L1814.8 1142.8 L1825.6 1130.7 L1836.3 1164.9 L1847 1160.5 L1857.7 1153.7 L1868.5 1160.5 L1879.2 1191.5 L1889.9 1175 L1900.6 1184.2 L1911.3 1208.5 L1922.1 1210.2 L1932.8 1224.7 L1943.5 1238.5 L1954.2 1270.2 L1964.9 1267.1 L1975.7 1259.8 L1986.4 1261.5 L1997.1 1249.6 L2007.8 1236.8 L2018.5 1237.5 L2029.3 1221.8 L2040 1224.7 L2050.7 1224.7 L2061.4 1213.8 L2072.2 1210.2 L2082.9 1224.7 L2093.6 1219.8 L2104.3 1233.2 L2115 1236.8 L2125.8 1236.8 L2136.5 1210.6 L2147.2 1221.1 L2157.9 1250.1 L2168.6 1215.5 L2168.64 1133.1 Z" fill="url(#gob)" clip-path="url(#cob)"/>
<path d="M3 1246.2 L3 1165.8 L13.7 1166.6 L24.4 1152 L35.2 1142.3 L45.9 1185.2 L56.6 1197.3 L67.3 1208.2 L78 1204.1 L88.8 1204.8 L99.5 1192.2 L110.2 1181.8 L120.9 1196.4 L131.7 1194.4 L142.4 1192.7 L153.1 1203.4 L163.8 1225.9 L174.5 1206 L185.3 1215.2 L196 1209.7 L206.7 1202.9 L217.4 1200 L228.1 1202.9 L238.9 1222.3 L249.6 1216.9 L260.3 1185.2 L271 1185.2 L281.7 1187.9 L292.5 1172.1 L303.2 1187.1 L313.9 1174.1 L324.6 1181.8 L335.4 1177.9 L346.1 1173.1 L356.8 1185.9 L367.5 1177.9 L378.2 1191.5 L389 1204.8 L399.7 1198.8 L410.4 1193.2 L421.1 1204.8 L431.8 1193.2 L442.6 1169 L453.3 1155.2 L464 1150.3 L474.7 1144.8 L485.4 1181.1 L496.2 1192.7 L506.9 1181.8 L517.6 1178.4 L528.3 1189.1 L539 1176.3 L549.8 1145.3 L560.5 1129.5 L571.2 1136.8 L581.9 1133.1 L592.7 1138 L603.4 1146 L614.1 1146.5 L624.8 1139.9 L635.5 1132.7 L646.3 1113.8 L657 1106 L667.7 1104.3 L678.4 1166.6 L689.1 1164.1 L699.9 1162.4 L710.6 1160 L721.3 1158.1 L732 1144 L742.7 1141.6 L753.5 1131 L764.2 1137 L774.9 1135.1 L785.6 1135.1 L796.4 1152.8 L807.1 1169 L817.8 1184.7 L828.5 1175 L839.2 1185.5 L850 1185.9 L860.7 1180.6 L871.4 1200.5 L882.1 1207.7 L892.8 1202.9 L903.6 1210.6 L914.3 1212.6 L925 1172.6 L935.7 1166.6 L946.4 1185.2 L957.2 1178.2 L967.9 1187.6 L978.6 1181.1 L989.3 1164.1 L1000.1 1168.3 L1010.8 1158.8 L1021.5 1178.2 L1032.2 1179.2 L1042.9 1179.4 L1053.7 1156.1 L1064.4 1170.2 L1075.1 1160 L1085.8 1166.6 L1096.5 1166.1 L1107.3 1164.9 L1118 1175.5 L1128.7 1173.1 L1139.4 1173.1 L1150.1 1176.3 L1160.9 1188.4 L1171.6 1185.2 L1182.3 1169.7 L1193 1167.3 L1203.8 1178.7 L1214.5 1190.1 L1225.2 1179.2 L1235.9 1176.3 L1246.6 1193.9 L1257.4 1202.2 L1268.1 1189.6 L1278.8 1194.9 L1289.5 1184.2 L1300.2 1187.6 L1311 1185.9 L1321.7 1157.6 L1332.4 1151.3 L1343.1 1166.6 L1353.8 1177.9 L1364.6 1154.5 L1375.3 1132.7 L1386 1127.1 L1396.7 1121.3 L1407.5 1114 L1418.2 1119.3 L1428.9 1121.3 L1439.6 1112.6 L1450.3 1108.4 L1461.1 1105.3 L1471.8 1115.2 L1482.5 1109.2 L1493.2 1100.4 L1503.9 1090.8 L1514.7 1090.8 L1525.4 1111.3 L1536.1 1106 L1546.8 1116.9 L1557.5 1110.1 L1568.3 1133.1 L1579 1159.8 L1589.7 1148.9 L1600.4 1138.2 L1611.2 1146 L1621.9 1135.1 L1632.6 1127.1 L1643.3 1155.2 L1654 1160.5 L1664.8 1164.9 L1675.5 1156.9 L1686.2 1160.5 L1696.9 1164.9 L1707.6 1193.9 L1718.4 1175.5 L1729.1 1177.5 L1739.8 1164.9 L1750.5 1158.6 L1761.2 1160.5 L1772 1155.2 L1782.7 1154 L1793.4 1152.8 L1804.1 1157.1 L1814.8 1142.8 L1825.6 1130.7 L1836.3 1164.9 L1847 1160.5 L1857.7 1153.7 L1868.5 1160.5 L1879.2 1191.5 L1889.9 1175 L1900.6 1184.2 L1911.3 1208.5 L1922.1 1210.2 L1932.8 1224.7 L1943.5 1238.5 L1954.2 1270.2 L1964.9 1267.1 L1975.7 1259.8 L1986.4 1261.5 L1997.1 1249.6 L2007.8 1236.8 L2018.5 1237.5 L2029.3 1221.8 L2040 1224.7 L2050.7 1224.7 L2061.4 1213.8 L2072.2 1210.2 L2082.9 1224.7 L2093.6 1219.8 L2104.3 1233.2 L2115 1236.8 L2125.8 1236.8 L2136.5 1210.6 L2147.2 1221.1 L2157.9 1250.1 L2168.6 1215.5 L2168.64 1246.2 Z" fill="url(#gos)" clip-path="url(#cos)"/>
<path d="M-7.7 1165.3 L3 1165.8 L13.7 1166.6 L24.4 1152 L35.2 1142.3 L45.9 1185.2 L56.6 1197.3 L67.3 1208.2 L78 1204.1 L88.8 1204.8 L99.5 1192.2 L110.2 1181.8 L120.9 1196.4 L131.7 1194.4 L142.4 1192.7 L153.1 1203.4 L163.8 1225.9 L174.5 1206 L185.3 1215.2 L196 1209.7 L206.7 1202.9 L217.4 1200 L228.1 1202.9 L238.9 1222.3 L249.6 1216.9 L260.3 1185.2 L271 1185.2 L281.7 1187.9 L292.5 1172.1 L303.2 1187.1 L313.9 1174.1 L324.6 1181.8 L335.4 1177.9 L346.1 1173.1 L356.8 1185.9 L367.5 1177.9 L378.2 1191.5 L389 1204.8 L399.7 1198.8 L410.4 1193.2 L421.1 1204.8 L431.8 1193.2 L442.6 1169 L453.3 1155.2 L464 1150.3 L474.7 1144.8 L485.4 1181.1 L496.2 1192.7 L506.9 1181.8 L517.6 1178.4 L528.3 1189.1 L539 1176.3 L549.8 1145.3 L560.5 1129.5 L571.2 1136.8 L581.9 1133.1 L592.7 1138 L603.4 1146 L614.1 1146.5 L624.8 1139.9 L635.5 1132.7 L646.3 1113.8 L657 1106 L667.7 1104.3 L678.4 1166.6 L689.1 1164.1 L699.9 1162.4 L710.6 1160 L721.3 1158.1 L732 1144 L742.7 1141.6 L753.5 1131 L764.2 1137 L774.9 1135.1 L785.6 1135.1 L796.4 1152.8 L807.1 1169 L817.8 1184.7 L828.5 1175 L839.2 1185.5 L850 1185.9 L860.7 1180.6 L871.4 1200.5 L882.1 1207.7 L892.8 1202.9 L903.6 1210.6 L914.3 1212.6 L925 1172.6 L935.7 1166.6 L946.4 1185.2 L957.2 1178.2 L967.9 1187.6 L978.6 1181.1 L989.3 1164.1 L1000.1 1168.3 L1010.8 1158.8 L1021.5 1178.2 L1032.2 1179.2 L1042.9 1179.4 L1053.7 1156.1 L1064.4 1170.2 L1075.1 1160 L1085.8 1166.6 L1096.5 1166.1 L1107.3 1164.9 L1118 1175.5 L1128.7 1173.1 L1139.4 1173.1 L1150.1 1176.3 L1160.9 1188.4 L1171.6 1185.2 L1182.3 1169.7 L1193 1167.3 L1203.8 1178.7 L1214.5 1190.1 L1225.2 1179.2 L1235.9 1176.3 L1246.6 1193.9 L1257.4 1202.2 L1268.1 1189.6 L1278.8 1194.9 L1289.5 1184.2 L1300.2 1187.6 L1311 1185.9 L1321.7 1157.6 L1332.4 1151.3 L1343.1 1166.6 L1353.8 1177.9 L1364.6 1154.5 L1375.3 1132.7 L1386 1127.1 L1396.7 1121.3 L1407.5 1114 L1418.2 1119.3 L1428.9 1121.3 L1439.6 1112.6 L1450.3 1108.4 L1461.1 1105.3 L1471.8 1115.2 L1482.5 1109.2 L1493.2 1100.4 L1503.9 1090.8 L1514.7 1090.8 L1525.4 1111.3 L1536.1 1106 L1546.8 1116.9 L1557.5 1110.1 L1568.3 1133.1 L1579 1159.8 L1589.7 1148.9 L1600.4 1138.2 L1611.2 1146 L1621.9 1135.1 L1632.6 1127.1 L1643.3 1155.2 L1654 1160.5 L1664.8 1164.9 L1675.5 1156.9 L1686.2 1160.5 L1696.9 1164.9 L1707.6 1193.9 L1718.4 1175.5 L1729.1 1177.5 L1739.8 1164.9 L1750.5 1158.6 L1761.2 1160.5 L1772 1155.2 L1782.7 1154 L1793.4 1152.8 L1804.1 1157.1 L1814.8 1142.8 L1825.6 1130.7 L1836.3 1164.9 L1847 1160.5 L1857.7 1153.7 L1868.5 1160.5 L1879.2 1191.5 L1889.9 1175 L1900.6 1184.2 L1911.3 1208.5 L1922.1 1210.2 L1932.8 1224.7 L1943.5 1238.5 L1954.2 1270.2 L1964.9 1267.1 L1975.7 1259.8 L1986.4 1261.5 L1997.1 1249.6 L2007.8 1236.8 L2018.5 1237.5 L2029.3 1221.8 L2040 1224.7 L2050.7 1224.7 L2061.4 1213.8 L2072.2 1210.2 L2082.9 1224.7 L2093.6 1219.8 L2104.3 1233.2 L2115 1236.8 L2125.8 1236.8 L2136.5 1210.6 L2147.2 1221.1 L2157.9 1250.1 L2168.6 1215.5" stroke="#8458d0" stroke-width="2" fill="none" stroke-linejoin="round"/>
<path d="M0 1186.7 L19.4 1181.1 L36.3 1175.5 L46 1174.3 L58.1 1175.5 L70.2 1178.2 L87.2 1180.6 L104.1 1180.4 L121.1 1181.1 L135.6 1183 L152.6 1186.7 L164.7 1191.5 L174.4 1195.1 L184.1 1200 L196.2 1202.2 L208.3 1202.9 L227.7 1202.2 L242.2 1204.1 L259.1 1205.8 L278.5 1204.6 L300.3 1202.4 L314.8 1198.5 L334.2 1193.9 L346.3 1190.8 L368.1 1188.4 L387.5 1185.9 L399.6 1184.7 L411.7 1185.5 L423.8 1186.7 L440.8 1186.7 L460.2 1182.3 L474.7 1179.9 L484.4 1179.9 L496.5 1181.8 L515.9 1181.1 L530.4 1180.6 L544.9 1177 L564.3 1169 L581.3 1161.7 L593.4 1159.3 L624.2 1158.1 L636.3 1154.5 L648.4 1148.4 L658.1 1142.8 L667.8 1138.7 L677.5 1137 L689.6 1136 L699.3 1137.5 L711.4 1139.9 L721.1 1141.4 L733.2 1142.3 L745.3 1141.9 L757.4 1140.4 L769.5 1139.9 L786.5 1139.9 L793.8 1142.3 L805.9 1146.7 L818 1152 L830.1 1153.2 L842.2 1155.2 L851.9 1156.9 L861.6 1158.1 L871.3 1161.2 L883.4 1166.6 L897.9 1173.8 L912.4 1181.1 L924.5 1184 L936.6 1186.7 L946.3 1189.1 L960.9 1190.1 L977.8 1190.3 L987.5 1188.4 L999.6 1187.1 L1011.7 1185.2 L1023.8 1183.5 L1043.2 1179.9 L1052.9 1176.3 L1062.6 1173.8 L1072.3 1172.6 L1084.4 1172.6 L1096.5 1170.9 L1108.6 1169.7 L1125.6 1168.5 L1140.1 1169 L1149.8 1169.7 L1161.9 1171.4 L1171.6 1171.9 L1181.3 1171.4 L1193.4 1170.7 L1200 1171.4 L1224.2 1174.6 L1236.3 1175.5 L1255.7 1179.9 L1279.9 1182.8 L1301.7 1184.7 L1311.4 1184.2 L1321.1 1182.3 L1333.2 1180.6 L1355 1180.4 L1369.5 1176.7 L1386.5 1171.9 L1401 1164.6 L1418 1156.1 L1432.5 1149.6 L1447 1142.3 L1460.4 1135.1 L1471.3 1131.4 L1483.4 1127.8 L1497.9 1120.1 L1513.6 1112.1 L1524.5 1110.4 L1536.6 1108.9 L1546.3 1108.4 L1558.4 1108.4 L1568.1 1109.6 L1580.2 1112.8 L1599.6 1116.9 L1611.7 1119.8 L1632.3 1122.5 L1643.2 1125.9 L1655.3 1131.4 L1665 1136.3 L1679.5 1141.6 L1696.5 1147.7 L1708.6 1153.2 L1720.7 1156.1 L1732.8 1157.6 L1747.3 1159.8 L1761.9 1161.7 L1781.3 1164.6 L1793.4 1164.6 L1800 1164.6 L1812.1 1162.9 L1824.2 1161 L1843.6 1161 L1855.7 1158.6 L1867.8 1157.4 L1882.3 1158.1 L1899.3 1160 L1911.4 1164.1 L1923.5 1168.3 L1935.6 1173.8 L1945.3 1179.9 L1957.4 1188.4 L1969.5 1199.3 L1981.6 1207.7 L1993.8 1215 L2005.9 1222.3 L2018 1228.8 L2030.1 1232.7 L2042.2 1236.1 L2051.9 1238.5 L2066.4 1239.2 L2080.9 1239.2 L2093 1237.5 L2105.2 1233.9 L2114.8 1232 L2127 1230.3 L2139.1 1226.6 L2146.3 1225.4 L2158.4 1226.4 L2169.8 1224.7" stroke="#f2cf2a" stroke-width="2.2" fill="none" stroke-linejoin="round"/>
</svg>
<svg class="lines" width="2560" height="1332" viewBox="0 0 2560 1332"><rect x="0" y="0" width="2560" height="7.6" fill="#2c2c2c"/><rect x="2432.4" y="7.6" width="2" height="1325" fill="#787878"/><rect x="0" y="1289.5" width="2560" height="2" fill="#787878"/><rect x="0" y="1067" width="2560" height="2.15" fill="#e3e5ef"/></svg>
<div class="wl" style="top:127.4px"></div>
<div class="wl" style="top:292.7px"></div>
<div class="wl" style="top:442.5px"></div>
<div class="wl" style="top:738.4px"></div>
<div class="wl" style="top:828.4px"></div>
<div class="wl" style="top:921.1px"></div>
<div class="box xau"></div><div class="box cur"></div><div class="box cur2"></div>
<div class="box sell"></div><div class="box buy"></div><div class="box ind"></div><div class="box usd"></div>
<span class="t" style="left:2449.76px;top:107.56px;font-size:23px;color:#dbdbdb;z-index:1;">4,560.000</span>
<span class="t" style="left:2449.76px;top:191.06px;font-size:23px;color:#dbdbdb;z-index:1;">4,520.000</span>
<span class="t" style="left:2449.76px;top:274.56px;font-size:23px;color:#dbdbdb;z-index:1;">4,480.000</span>
<span class="t" style="left:2449.76px;top:358.06px;font-size:23px;color:#dbdbdb;z-index:1;">4,440.000</span>
<span class="t" style="left:2449.76px;top:525.07px;font-size:23px;color:#dbdbdb;z-index:1;">4,360.000</span>
<span class="t" style="left:2449.76px;top:692.07px;font-size:23px;color:#dbdbdb;z-index:1;">4,280.000</span>
<span class="t" style="left:2449.76px;top:775.57px;font-size:23px;color:#dbdbdb;z-index:1;">4,240.000</span>
<span class="t" style="left:2449.76px;top:859.07px;font-size:23px;color:#dbdbdb;z-index:1;">4,200.000</span>
<span class="t" style="left:2449.76px;top:942.57px;font-size:23px;color:#dbdbdb;z-index:1;">4,160.000</span>
<span class="t" style="left:2449.76px;top:1026.07px;font-size:23px;color:#dbdbdb;z-index:1;">4,120.000</span>
<span class="t" style="left:2449.14px;top:1107.96px;font-size:23px;color:#dbdbdb;transform:scaleX(1.0107);">75.00</span>
<span class="t" style="left:2449.69px;top:1179.57px;font-size:23px;color:#dbdbdb;transform:scaleX(1.0041);">50.00</span>
<span class="t" style="left:2449.19px;top:1250.26px;font-size:23px;color:#dbdbdb;transform:scaleX(1.0101);">25.00</span>
<span class="t" style="left:2449.88px;top:131.47px;font-size:23px;color:#111;transform:scaleX(0.9915);z-index:3;">4,548.229</span>
<span class="t" style="left:2449.88px;top:296.77px;font-size:23px;color:#111;transform:scaleX(0.9906);z-index:3;">4,469.285</span>
<span class="t" style="left:2449.88px;top:446.57px;font-size:23px;color:#111;transform:scaleX(0.9909);z-index:3;">4,397.668</span>
<span class="t" style="left:2449.88px;top:742.47px;font-size:23px;color:#111;transform:scaleX(0.9921);z-index:3;">4,256.037</span>
<span class="t" style="left:2449.88px;top:832.47px;font-size:23px;color:#111;transform:scaleX(0.9916);z-index:3;">4,212.761</span>
<span class="t" style="left:2449.88px;top:925.17px;font-size:23px;color:#111;transform:scaleX(0.9916);z-index:3;">4,168.361</span>
<span class="t" style="left:2341.83px;top:587.61px;font-size:22px;color:#fff;transform:scaleX(0.9019);z-index:3;">XAUUSD</span>
<span class="t" style="left:2450.17px;top:585.07px;font-size:23px;color:#fff;transform:scaleX(0.9965);z-index:3;">4,331.245</span>
<span class="t" style="left:2450.63px;top:612.07px;font-size:23px;color:#d3ecd6;transform:scaleX(0.9645);z-index:3;">16:13</span>
<span class="t" style="left:2450.17px;top:645.07px;font-size:23px;color:#fff;transform:scaleX(0.9820);z-index:3;">4,323.761</span>
<span class="t" style="left:71.38px;top:1306.41px;font-size:23px;color:#dbdbdb;transform:scaleX(1.0371);">7</span>
<span class="t" style="left:211.33px;top:1306.41px;font-size:23px;color:#dbdbdb;transform:scaleX(1.0264);">9</span>
<span class="t" style="left:333.64px;top:1306.41px;font-size:23px;color:#dbdbdb;transform:scaleX(0.9387);">10</span>
<span class="t" style="left:461.82px;top:1306.41px;font-size:23px;color:#dbdbdb;transform:scaleX(1.0468);">11</span>
<span class="t" style="left:590.77px;top:1306.41px;font-size:23px;color:#dbdbdb;transform:scaleX(0.9591);">12</span>
<span class="t" style="left:708.54px;top:1306.41px;font-size:23px;color:#dbdbdb;transform:scaleX(0.9451);">14</span>
<span class="t" style="left:847.99px;top:1306.41px;font-size:23px;color:#dbdbdb;transform:scaleX(0.9581);">16</span>
<span class="t" style="left:976.59px;top:1306.41px;font-size:23px;color:#dbdbdb;transform:scaleX(0.9591);">17</span>
<span class="t" style="left:1105.56px;top:1306.41px;font-size:23px;color:#dbdbdb;transform:scaleX(0.9283);">18</span>
<span class="t" style="left:1233.81px;top:1306.41px;font-size:23px;color:#dbdbdb;transform:scaleX(0.9581);">19</span>
<span class="t" style="left:1352.04px;top:1306.41px;font-size:23px;color:#dbdbdb;transform:scaleX(0.9521);">21</span>
<span class="t" style="left:1491.49px;top:1306.41px;font-size:23px;color:#dbdbdb;transform:scaleX(0.9455);">23</span>
<span class="t" style="left:1620.22px;top:1306.41px;font-size:23px;color:#dbdbdb;transform:scaleX(0.9420);">24</span>
<span class="t" style="left:1727.48px;top:1306.41px;font-size:23px;color:#dbdbdb;transform:scaleX(0.9527);">25</span>
<span class="t" style="left:1856.09px;top:1306.41px;font-size:23px;color:#dbdbdb;transform:scaleX(0.9541);">28</span>
<span class="t" style="left:1995.86px;top:1306.41px;font-size:23px;color:#dbdbdb;transform:scaleX(0.9399);">30</span>
<span class="t" style="left:2124.07px;top:1306.41px;font-size:23px;color:#dbdbdb;transform:scaleX(0.9560);">31</span>
<span class="t" style="left:2386.69px;top:1306.41px;font-size:23px;color:#dbdbdb;transform:scaleX(1.0335);">2</span>
<span class="t" style="left:2239.82px;top:1306.41px;font-size:23px;color:#e2e2e2;font-weight:bold;transform:scaleX(1.0157);">2026</span>
<span class="t" style="left:50.58px;top:26.15px;font-size:29.6px;color:#dbdbdb;transform:scaleX(1.0222);">Gold</span>
<span class="t" style="left:124.64px;top:26.15px;font-size:29.6px;color:#dbdbdb;transform:scaleX(0.9869);">Spot</span>
<span class="t" style="left:219.11px;top:26.15px;font-size:29.6px;color:#dbdbdb;transform:scaleX(1.0054);">U.S.</span>
<span class="t" style="left:286.75px;top:26.15px;font-size:29.6px;color:#dbdbdb;transform:scaleX(1.0520);">Dollar</span>
<span class="t" style="left:392.7px;top:26.15px;font-size:29.6px;color:#dbdbdb;">2h</span>
<span class="t" style="left:448.59px;top:26.15px;font-size:29.6px;color:#dbdbdb;transform:scaleX(0.9092);">OANDA</span>
<span class="t" style="left:610.62px;top:27.27px;font-size:25.6px;color:#cfcfcf;transform:scaleX(0.8451);">O</span>
<span class="t" style="left:629.93px;top:27.27px;font-size:25.6px;color:#62d95e;transform:scaleX(0.9570);">4,286.105</span>
<span class="t" style="left:750.99px;top:27.27px;font-size:25.6px;color:#cfcfcf;transform:scaleX(0.9683);">H</span>
<span class="t" style="left:770.84px;top:27.27px;font-size:25.6px;color:#62d95e;transform:scaleX(0.9736);">4,335.230</span>
<span class="t" style="left:891.05px;top:27.27px;font-size:25.6px;color:#cfcfcf;transform:scaleX(0.9751);">L</span>
<span class="t" style="left:906.65px;top:27.27px;font-size:25.6px;color:#62d95e;transform:scaleX(0.9684);">4,274.025</span>
<span class="t" style="left:1028.48px;top:27.27px;font-size:25.6px;color:#cfcfcf;transform:scaleX(0.8598);">C</span>
<span class="t" style="left:1046.05px;top:27.27px;font-size:25.6px;color:#62d95e;transform:scaleX(0.9671);">4,331.245</span>
<span class="t" style="left:1168.74px;top:27.27px;font-size:25.6px;color:#62d95e;transform:scaleX(0.9318);">+45.430</span>
<span class="t" style="left:1265.4px;top:27.27px;font-size:25.6px;color:#62d95e;transform:scaleX(0.9058);">(+1.06%)</span>
<span class="t" style="left:1372.04px;top:27.27px;font-size:25.6px;color:#f5a476;transform:scaleX(0.9450);">−8.150</span>
<span class="t" style="left:1455.28px;top:27.27px;font-size:25.6px;color:#f5a476;transform:scaleX(0.9031);">(−0.19%)</span>
<span class="t" style="left:28.55px;top:78.73px;font-size:23.4px;color:#f03546;transform:scaleX(1.0829);-webkit-text-stroke:0.35px #f03546;">4,330.80</span>
<span class="t" style="left:127.92px;top:78.23px;font-size:18.9px;color:#f03546;transform:scaleX(0.8901);-webkit-text-stroke:0.3px #f03546;">0</span>
<span class="t" style="left:59.6px;top:107.19px;font-size:20.6px;color:#f03546;transform:scaleX(0.9020);">SELL</span>
<span class="t" style="left:259.83px;top:78.73px;font-size:23.4px;color:#2b66ff;transform:scaleX(1.0765);-webkit-text-stroke:0.35px #2b66ff;">4,331.80</span>
<span class="t" style="left:357.76px;top:78.53px;font-size:18.9px;color:#2b66ff;transform:scaleX(1.0198);-webkit-text-stroke:0.3px #2b66ff;">0</span>
<span class="t" style="left:293.74px;top:107.39px;font-size:20.6px;color:#2b66ff;transform:scaleX(0.9379);">BUY</span>
<span class="t" style="left:174.79px;top:93.75px;font-size:19px;color:#dadada;transform:scaleX(1.0059);">100.0</span>
<span class="t" style="left:45.89px;top:156.65px;font-size:25.5px;color:#dcdcdc;transform:scaleX(0.9023);">3</span>
<span class="t" style="left:2448.21px;top:29.33px;font-size:22.8px;color:#e6e6e6;transform:scaleX(0.8531);">USD</span>
<svg class="ov" width="2560" height="1332" viewBox="0 0 2560 1332">
<circle cx="26.2" cy="38.5" r="17.4" fill="#d59a04"/>
<path d="M23.3 31.1 H29 L32.4 36.8 H19.7 Z M16.4 38.7 H22.4 L25.5 44.7 H12.5 Z M29.7 38.7 H36 L39.5 44.7 H26.9 Z" fill="#fff"/>
<path d="M198.7 50.6 L207.2 28.2" stroke="#dbdbdb" stroke-width="2.5" fill="none"/><circle cx="381" cy="40.4" r="3" fill="#dbdbdb"/><circle cx="436.9" cy="40.4" r="3" fill="#dbdbdb"/>
<circle cx="577.8" cy="38.6" r="17.2" fill="#0a1f1c"/><circle cx="577.9" cy="38.6" r="8.1" fill="#0f9981"/>
<path d="M19.4 165.7 L27 172.9 L34.7 165.2" stroke="#dcdcdc" stroke-width="2.1" fill="none" stroke-linecap="round" stroke-linejoin="round"/>
<path d="M2544.3 39 L2549.1 43.5 L2554.2 38.7" stroke="#e2e2e2" stroke-width="2.5" fill="none" stroke-linecap="round" stroke-linejoin="round"/>
<path d="M14.04 1233.2 H38 V1262.5 H25.8 V1245 H14.04 Z M59.04 1233.2 H72.67 L61.1 1262.5 H47.5 Z" fill="#dcdcdc" stroke="#0e0e0e" stroke-width="7" stroke-linejoin="miter" paint-order="stroke"/>
<circle cx="47.27" cy="1239.2" r="6" fill="#dcdcdc" stroke="#0e0e0e" stroke-width="7" paint-order="stroke"/>
<path d="M14.04 1233.2 H38 V1262.5 H25.8 V1245 H14.04 Z M59.04 1233.2 H72.67 L61.1 1262.5 H47.5 Z" fill="#dcdcdc"/><circle cx="47.27" cy="1239.2" r="6" fill="#dcdcdc"/>
<path d="M2488.9 1317.5 L2495.6 1305.7 H2510.5 L2517.2 1317.5 L2510.5 1329.3 H2495.6 Z" stroke="#d8d8d8" stroke-width="2" fill="none" stroke-linejoin="round"/><circle cx="2502.9" cy="1317.5" r="4" stroke="#d8d8d8" stroke-width="2" fill="none"/>
</svg>
</body></html>
